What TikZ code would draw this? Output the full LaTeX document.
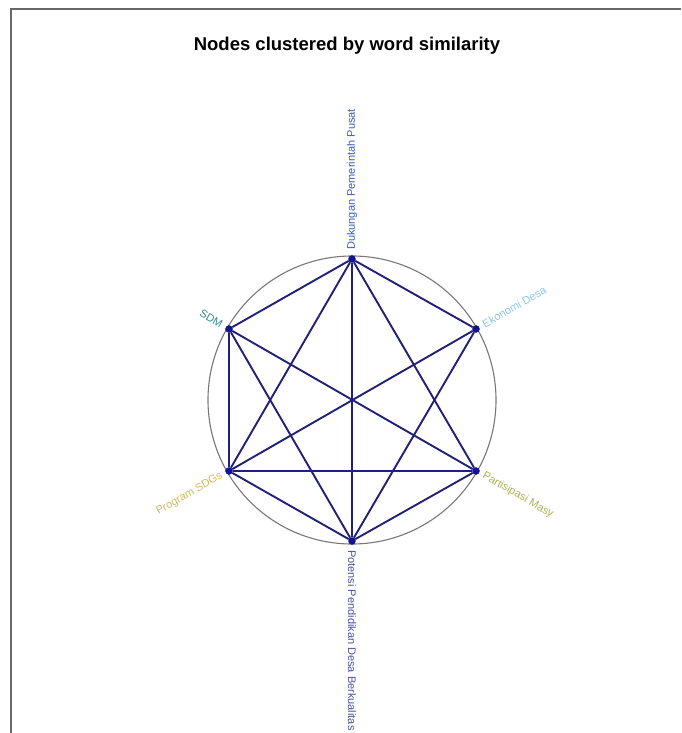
\documentclass[tikz,border=0pt]{standalone}
\usepackage{fontspec}
\setmainfont{Liberation Sans}
\usetikzlibrary{calc}
\definecolor{edgenavy}{RGB}{32,32,118}
\definecolor{dotnavy}{RGB}{20,20,140}
\definecolor{ringgray}{RGB}{120,120,120}
\definecolor{framegray}{RGB}{105,105,105}
\definecolor{lblblue}{RGB}{55,95,185}
\definecolor{lblteal}{RGB}{50,140,140}
\definecolor{lblsky}{RGB}{140,200,228}
\definecolor{lblgold}{RGB}{212,182,98}
\definecolor{lblolive}{RGB}{170,176,88}
\definecolor{lblslate}{RGB}{72,82,160}
\tikzset{
  vertex/.style={circle,fill=dotnavy,draw=dotnavy,inner sep=0pt,minimum size=7pt},
  edge/.style={edgenavy,line width=1.9pt},
  lbl/.style={font=\fontsize{11}{13}\selectfont,inner sep=0pt}
}

\begin{document}
\begin{tikzpicture}[x=1pt,y=-1pt]
\useasboundingbox (0,0) rectangle (681,733);
% screenshot frame
\draw[framegray,line width=1.5pt] (11,733) -- (11,9) -- (681,9);
\node[font=\bfseries\fontsize{18.5}{22}\selectfont] (title) at (347,46) {Nodes clustered by word similarity};
% ring
\coordinate (c) at (352,400);
\draw[ringgray,line width=1.1pt] (c) circle (144);
% the six word nodes
\node[vertex] (dpp)  at (352,259) {};
\node[vertex] (eko)  at (476,329) {};
\node[vertex] (part) at (476,471) {};
\node[vertex] (pot)  at (352,541) {};
\node[vertex] (sdgs) at (229,471) {};
\node[vertex] (sdm)  at (229,329) {};
% edges between the nodes
\foreach \a/\b in {dpp/sdm,dpp/eko,dpp/sdgs,dpp/part,dpp/pot,
                   sdm/sdgs,sdm/part,sdm/pot,eko/sdgs,eko/pot,
                   sdgs/part,sdgs/pot,part/pot}
  \draw[edge] (\a) -- (\b);
% labels, turned along the radius
\node[lbl,lblblue,rotate=90,anchor=west] (dpp-l) at ($(dpp)+(0,-9)$) {Dukungan Pemerintah Pusat};
\node[lbl,lblsky,rotate=30,anchor=west] (eko-l) at ($(eko)+(7,-4)$) {Ekonomi Desa};
\node[lbl,lblolive,rotate=-30,anchor=west] (part-l) at ($(part)+(7,4)$) {Partisipasi Masy};
\node[lbl,lblslate,rotate=-90,anchor=west] (pot-l) at ($(pot)+(0,9)$) {Potensi Pendidikan Desa Berkualitas};
\node[lbl,lblgold,rotate=30,anchor=east] (sdgs-l) at ($(sdgs)+(-7,4)$) {Program SDGs};
\node[lbl,lblteal,rotate=-30,anchor=east] (sdm-l) at ($(sdm)+(-7,-4)$) {SDM};
\end{tikzpicture}
\end{document}
